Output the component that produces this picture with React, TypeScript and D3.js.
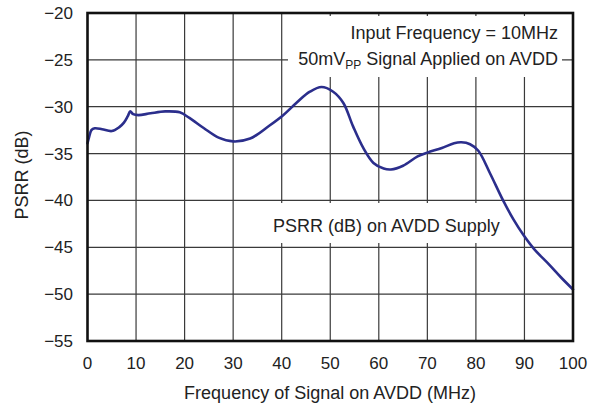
import React from "react";
import * as d3 from "d3";

const freqMHz = [0, 0.3, 0.8, 1.5, 3, 5, 6.5, 7.5, 8.3, 8.8, 9.4, 10.5, 13, 16, 19, 21, 24, 27, 30, 33.5, 37.5, 40.3, 43, 45.8, 48.2, 50.6, 52.7, 54.7, 56.8, 58.9, 61, 62.5, 65, 68, 70, 73, 75.5, 77, 78.8, 80.5, 82.9, 85.6, 87.7, 89.8, 92, 95, 97.5, 100];
const psrrDb = [-33.9, -33.3, -32.5, -32.3, -32.4, -32.6, -32.2, -31.7, -31.0, -30.5, -30.8, -30.9, -30.7, -30.5, -30.6, -31.2, -32.3, -33.3, -33.7, -33.4, -32.0, -30.9, -29.6, -28.4, -27.9, -28.4, -29.6, -32.1, -34.4, -36.0, -36.6, -36.7, -36.3, -35.3, -34.9, -34.4, -33.9, -33.8, -34.0, -34.7, -37.1, -40.0, -42.0, -43.7, -45.2, -46.8, -48.2, -49.5];
const xTicks = [0, 10, 20, 30, 40, 50, 60, 70, 80, 90, 100];
const yTicks = [-20, -25, -30, -35, -40, -45, -50, -55];

const FONT = "'Liberation Sans', Arial, Helvetica, sans-serif";

export default function App() {
  const left = 87.5, right = 573, top = 13, bottom = 341;
  const x = d3.scaleLinear().domain([0, 100]).range([left, right]);
  const y = d3.scaleLinear().domain([-55, -20]).range([bottom, top]);
  const pts: [number, number][] = freqMHz.map((f, i) => [f, psrrDb[i]]);
  const line = d3
    .line<[number, number]>()
    .x((d) => x(d[0]))
    .y((d) => y(d[1]))
    .curve(d3.curveCatmullRom.alpha(0.5));

  return (
    <svg width={589} height={404} style={{ position: "absolute", left: 0, top: 0, background: "#fff" }} fontFamily={FONT}>
      <rect x={0} y={0} width={589} height={404} fill="#fff" />
      {xTicks.slice(1, -1).map((t) => (
        <line key={"gx" + t} x1={x(t)} x2={x(t)} y1={top} y2={bottom} stroke="#3a3a3a" strokeWidth={1.2} />
      ))}
      {yTicks.slice(1, -1).map((t) => (
        <line key={"gy" + t} x1={left} x2={right} y1={y(t)} y2={y(t)} stroke="#3a3a3a" strokeWidth={1.2} />
      ))}
      <rect x={288} y={16} width={274} height={61} fill="#fff" />
      <rect x={265} y={203} width={246} height={40} fill="#fff" />
      <path d={line(pts) || ""} fill="none" stroke="#2b2e8c" strokeWidth={2.6} strokeLinejoin="round" strokeLinecap="round" />
      <rect x={left} y={top} width={right - left} height={bottom - top} fill="none" stroke="#111" strokeWidth={2.6} />
      {xTicks.map((t) => (
        <text key={"xt" + t} x={x(t)} y={369} textAnchor="middle" fontSize={17} fill="#222">
          {t}
        </text>
      ))}
      {yTicks.map((t) => (
        <text key={"yt" + t} x={73} y={y(t) + 6} textAnchor="end" fontSize={17} fill="#222">
          {"\u2212" + Math.abs(t)}
        </text>
      ))}
      <text x={330} y={399} textAnchor="middle" fontSize={18} fill="#222">
        Frequency of Signal on AVDD (MHz)
      </text>
      <text transform={`translate(28,175) rotate(-90)`} textAnchor="middle" fontSize={18} fill="#222">
        PSRR (dB)
      </text>
      <text x={558} y={39} textAnchor="end" fontSize={18} fill="#222">
        Input Frequency = 10MHz
      </text>
      <text x={558} y={65} textAnchor="end" fontSize={18} fill="#222">
        50mV<tspan fontSize={12} dy={4}>PP</tspan>
        <tspan dy={-4}> Signal Applied on AVDD</tspan>
      </text>
      <text x={273} y={232} textAnchor="start" fontSize={18} fill="#222">
        PSRR (dB) on AVDD Supply
      </text>
    </svg>
  );
}
